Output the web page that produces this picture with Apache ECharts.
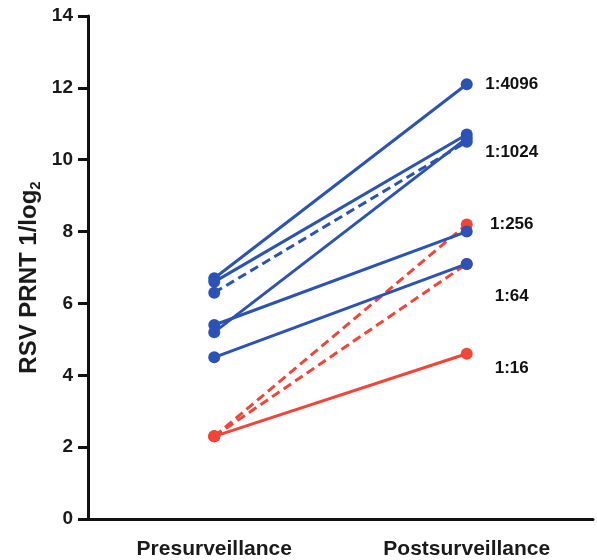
<!DOCTYPE html>
<html>
<head>
<meta charset="utf-8">
<script src="https://cdn.jsdelivr.net/npm/echarts@6/dist/echarts.min.js"></script>
<style>html,body{margin:0;padding:0;background:#fff;}#c{width:597px;height:560px;}</style>
</head>
<body>
<div id="c"></div>
<script>
const categories = ['Presurveillance', 'Postsurveillance'];
const yTicks = [0, 2, 4, 6, 8, 10, 12, 14];
// one entry per subject
const preValues  = [2.3, 2.3, 2.3, 6.7, 6.6, 6.3, 5.4, 5.2, 4.5];
const postValues = [8.2, 7.1, 4.6, 12.1, 10.7, 10.5, 8.0, 10.6, 7.1];
const groups     = ['red', 'red', 'red', 'blue', 'blue', 'blue', 'blue', 'blue', 'blue'];
const dashed     = [true, true, false, false, false, true, false, false, false];
const titerLabels = ['1:4096', '1:1024', '1:256', '1:64', '1:16'];
const titerLabelY = [12.1, 10.2, 8.2, 6.2, 4.2];

const colors = { blue: '#2b52b4', red: '#f1453a' };
const font = '"Liberation Sans", Arial, Helvetica, sans-serif';

const series = preValues.map((v, i) => ({
  type: 'line',
  data: [v, postValues[i]],
  symbol: 'circle',
  symbolSize: 12,
  showSymbol: true,
  silent: true,
  animation: false,
  lineStyle: { color: colors[groups[i]], width: 3, type: dashed[i] ? [9, 5] : 'solid' },
  itemStyle: { color: colors[groups[i]] },
  z: groups[i] === 'blue' ? 3 : 2
}));

series.push({
  type: 'scatter',
  symbolSize: 1,
  silent: true,
  animation: false,
  itemStyle: { color: 'rgba(0,0,0,0)' },
  data: titerLabels.map((t, i) => [categories[1], titerLabelY[i], t]),
  label: {
    show: true,
    position: 'inside',
    align: 'center',
    verticalAlign: 'middle',
    offset: [45, 0],
    formatter: p => p.data[2],
    color: '#111111',
    opacity: 1,
    textBorderWidth: 0,
    fontFamily: font,
    fontWeight: 'bold',
    fontSize: 17
  },
  z: 5
});

const chart = echarts.init(document.getElementById('c'));
chart.setOption({
  backgroundColor: '#ffffff',
  animation: false,
  grid: { left: 88, right: 4, top: 16, bottom: 41 },
  xAxis: {
    type: 'category',
    data: categories,
    boundaryGap: true,
    axisLine: { lineStyle: { color: '#111', width: 3 } },
    axisTick: { alignWithLabel: true, length: 9, lineStyle: { color: '#111', width: 3 } },
    axisLabel: { margin: 20, color: '#1a1a1a', fontFamily: font, fontWeight: 'bold', fontSize: 21 },
    splitLine: { show: false }
  },
  yAxis: {
    type: 'value',
    min: yTicks[0],
    max: yTicks[yTicks.length - 1],
    interval: 2,
    name: '{a|RSV PRNT 1/log}{b|2}',
    nameLocation: 'middle',
    nameRotate: 90,
    nameGap: 45,
    nameMoveOverlap: false,
    nameTextStyle: {
      padding: [0, 20, 0, 0],
      rich: {
        a: { fontFamily: font, fontWeight: 'bold', fontSize: 24, color: '#1a1a1a', lineHeight: 28 },
        b: { fontFamily: font, fontWeight: 'bold', fontSize: 15, color: '#1a1a1a', verticalAlign: 'bottom', lineHeight: 28, padding: [10, 0, 0, 0] }
      }
    },
    axisLine: { show: true, lineStyle: { color: '#111', width: 3 } },
    axisTick: { show: true, length: 10, lineStyle: { color: '#111', width: 3 } },
    axisLabel: { margin: 15, color: '#1a1a1a', fontFamily: font, fontWeight: 'bold', fontSize: 19 },
    splitLine: { show: false }
  },
  series: series
});
</script>
</body>
</html>
